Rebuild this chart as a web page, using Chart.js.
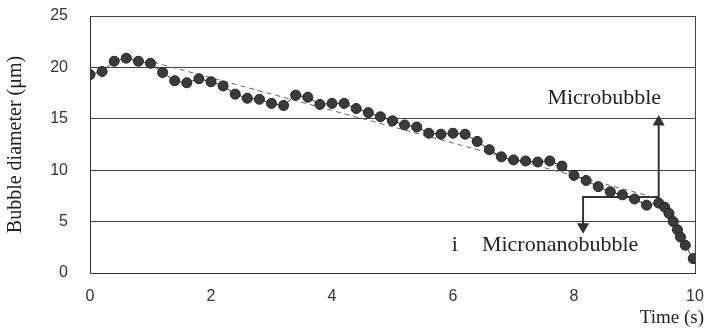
<!DOCTYPE html>
<html>
<head>
<meta charset="utf-8">
<script src="https://cdn.jsdelivr.net/npm/chart.js@4"></script>
<style>
  html, body { margin: 0; padding: 0; background: #fff; }
  #wrap { width: 706px; height: 329px; }
</style>
</head>
<body>
<div id="wrap"><canvas id="myChart" width="706" height="329"></canvas></div>
<script>
// bubble diameter over time
const timeValues = [0, 0.2, 0.4, 0.6, 0.8, 1.0, 1.2, 1.4, 1.6, 1.8,
  2.0, 2.2, 2.4, 2.6, 2.8, 3.0, 3.2, 3.4, 3.6, 3.8,
  4.0, 4.2, 4.4, 4.6, 4.8, 5.0, 5.2, 5.4, 5.6, 5.8,
  6.0, 6.2, 6.4, 6.6, 6.8, 7.0, 7.2, 7.4, 7.6, 7.8,
  8.0, 8.2, 8.4, 8.6, 8.8, 9.0, 9.2, 9.4,
  9.5, 9.57, 9.64, 9.71, 9.76, 9.84, 9.97];
const diameterValues = [19.3, 19.6, 20.6, 20.9, 20.6, 20.4, 19.5, 18.7, 18.5, 18.9,
  18.6, 18.2, 17.4, 17.0, 16.9, 16.5, 16.3, 17.3, 17.1, 16.4,
  16.5, 16.5, 16.0, 15.6, 15.2, 14.8, 14.4, 14.2, 13.6, 13.5,
  13.6, 13.5, 12.8, 12.0, 11.3, 11.0, 10.9, 10.8, 10.9, 10.4,
  9.5, 9.0, 8.4, 7.9, 7.6, 7.2, 6.6, 6.8,
  6.4, 5.8, 5.0, 4.2, 3.5, 2.7, 1.4];

// dashed trend line
const trendX = [1.05, 9.3];
const trendY = [20.5, 7.4];

// bracket with the two arrows
const bracketX = [8.15, 8.15, 9.4, 9.4];
const bracketY = [4.5, 7.4, 7.4, 14.7];

const yTicks = [0, 5, 10, 15, 20, 25];
const xTicks = [0, 2, 4, 6, 8, 10];

const labels = [
  {text: "Microbubble", x: 8.5, y: 17.0},
  {text: "i", x: 6.03, y: 2.7},
  {text: "Micronanobubble", x: 7.77, y: 2.7}
];

function toPoints(xs, ys){
    const pts = [];
    xs.forEach((x, i) => {
        pts.push({x: x, y: ys[i]});
    });
    return pts;
}

const serif = "'Liberation Serif', 'DejaVu Serif', serif";
const sans = "'Liberation Sans', Arial, sans-serif";

const textPlugin = {
    id: "textLabels",
    afterDatasetsDraw(chart){
        const ctx = chart.ctx;
        const xs = chart.scales.x;
        const ys = chart.scales.y;
        ctx.save();
        ctx.font = "22px " + serif;
        ctx.fillStyle = "#222";
        ctx.textAlign = "center";
        ctx.textBaseline = "middle";
        labels.forEach(l => {
            ctx.fillText(l.text, xs.getPixelForValue(l.x), ys.getPixelForValue(l.y));
        });
        // x axis title sits below the right end of the axis
        ctx.font = "19px " + serif;
        ctx.textAlign = "right";
        ctx.fillText("Time (s)", chart.chartArea.right + 9, 318);
        ctx.restore();
    }
};

new Chart("myChart", {
    type: "line",
    data: {
        datasets: [
            {
                data: toPoints(timeValues, diameterValues),
                borderColor: "#333",
                borderWidth: 1,
                backgroundColor: "#3b3b3b",
                pointBorderColor: "#222",
                pointBorderWidth: 1,
                pointRadius: 5,
                tension: 0
            },
            {
                data: toPoints(trendX, trendY),
                borderColor: "#666",
                borderWidth: 1,
                borderDash: [5, 4],
                pointRadius: 0
            },
            {
                data: toPoints(bracketX, bracketY),
                borderColor: "#333",
                borderWidth: 2,
                backgroundColor: "#333",
                pointBackgroundColor: "#333",
                pointBorderColor: "#333",
                pointStyle: "triangle",
                pointRadius: [5, 0, 0, 5],
                pointRotation: [180, 0, 0, 0]
            }
        ]
    },
    plugins: [textPlugin],
    options: {
        responsive: false,
        animation: false,
        layout: {padding: {top: 16, right: 11, left: 0, bottom: 0}},
        plugins: {
            legend: {display: false},
            tooltip: {enabled: false}
        },
        scales: {
            x: {
                type: "linear",
                min: 0,
                max: 10,
                afterBuildTicks: (s) => { s.ticks = xTicks.map(v => ({value: v})); },
                afterFit: (s) => {
                    s.height = 56;
                    s.paddingLeft = 8;
                    s.paddingRight = 8;
                },
                ticks: {color: "#333", font: {family: sans, size: 16}, padding: 14},
                grid: {
                    drawTicks: false,
                    color: (c) => c.tick && c.tick.value === 10 ? "#444" : "rgba(0,0,0,0)"
                },
                border: {display: true, color: "#333", width: 1}
            },
            y: {
                min: 0,
                max: 25,
                afterBuildTicks: (s) => { s.ticks = yTicks.map(v => ({value: v})); },
                afterFit: (s) => {
                    s.width = 90;
                    s.paddingTop = 8;
                    s.paddingBottom = 8;
                },
                ticks: {color: "#333", font: {family: sans, size: 16}, padding: 22},
                grid: {drawTicks: false, color: "#444", lineWidth: 1},
                border: {display: true, color: "#333", width: 1},
                title: {
                    display: true,
                    text: "Bubble diameter (μm)",
                    color: "#222",
                    font: {family: serif, size: 20},
                    padding: {top: 4, bottom: 0}
                }
            }
        }
    }
});
</script>
</body>
</html>
